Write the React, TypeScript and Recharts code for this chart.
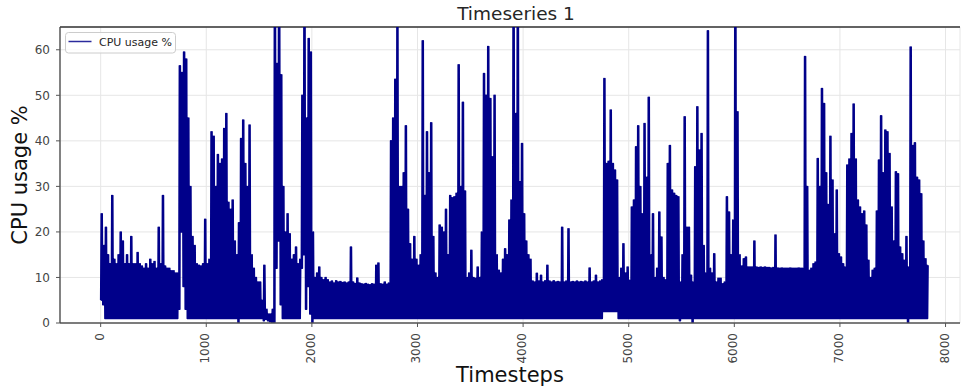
import React from 'react';
import { LineChart, Line, XAxis, YAxis, CartesianGrid, ReferenceLine, Legend } from 'recharts';

// Each bin spans 20 timesteps; HI = top of the trace in the bin, LO = bottom of the trace in the bin.
// The raw signal swings between these two levels many times within a bin.
const BIN_STEP = 20;

const HI: number[] = [
  24, 17, 21, 15, 13, 28, 14, 13, 15, 20, 18, 13, 15, 13, 19, 13, 13, 15.5, 13, 12.5,
  12, 13, 12, 14, 13, 13.5, 12, 21, 13, 28, 12.5, 12, 12, 11.5, 11.5, 11, 11, 56.5, 55, 59.5,
  58, 45, 30, 19, 17, 13, 12.7, 12.5, 13, 22.8, 13, 14, 42, 41, 30, 37, 35, 36, 42.7, 46,
  26.5, 25, 27, 18, 15, 22, 40.5, 44.6, 35, 30, 43.5, 15, 12, 10, 9, 9, 5, 12.7, 3, 2,
  2, 3, 75, 57, 80, 54.5, 30, 20, 24, 19.6, 14, 15, 16.7, 13, 14, 50, 75, 45, 62.5, 59.5,
  20, 10, 11, 12.3, 10, 9.5, 10, 9.5, 9, 9.2, 8.8, 9.3, 9, 9.1, 8.9, 9, 8.8, 9, 16.7, 9,
  8.7, 9.9, 8.8, 8.6, 8.5, 8.7, 8.5, 8.4, 8.6, 8.5, 12.7, 13.2, 8.6, 8.5, 9, 8.5, 8.8, 40, 45, 53.5,
  66, 30, 30, 33, 43.3, 25, 17.4, 14, 19, 14, 12.7, 15, 62, 28, 42, 33, 44, 19, 11, 10,
  21.5, 21, 20, 25, 15, 28, 27.5, 27.7, 28.5, 56.7, 30, 48.5, 29, 10, 11, 16, 10, 9.8, 12.3, 10,
  20, 54.8, 50, 60.7, 49.3, 36.5, 50, 15, 11.6, 11, 14, 16.3, 15, 22.6, 27, 75, 46, 75, 31, 39.4,
  24, 18, 15, 14, 9.2, 9, 10.9, 9.2, 10.5, 9, 9.3, 12.7, 9.2, 9, 9.3, 9, 9.1, 9, 21, 9,
  9.2, 20.7, 9, 9.1, 9, 9.2, 9, 9.1, 9, 9.2, 9, 12.1, 9, 9.2, 10.5, 9, 9.2, 9.5, 53.7, 35,
  35.5, 46.8, 35, 33.6, 31.4, 10, 12, 17.4, 11, 12.3, 9.4, 25.5, 27, 38.7, 43.3, 30, 24, 43.8, 32, 49.6,
  15, 24, 10, 12, 24.4, 18.9, 10, 9.5, 35, 39, 29.2, 28.5, 28, 27.7, 9, 15, 45.3, 21, 21, 10.5,
  9, 34.3, 47.5, 38, 41.6, 17, 11, 64.2, 12, 11, 15.2, 9, 9.8, 9.8, 8.6, 9, 27.7, 24.4, 15, 22.6,
  75, 46.4, 15, 12.5, 14.1, 14.5, 12.3, 12.3, 12.3, 18, 12.3, 12.2, 12.3, 12.2, 12.3, 12.2, 12.2, 12.1, 12.2, 19.3,
  12.1, 12, 12.1, 12, 12, 12, 12.1, 12, 12, 12, 12.1, 12, 12, 58.5, 30, 11.6, 12, 13, 13.4, 36.1,
  30, 51.5, 48.2, 33, 26, 41, 31.4, 19.6, 29.2, 15.2, 14.5, 13, 12.3, 34.7, 36, 41.6, 48.1, 36, 27, 25.5,
  24, 24.6, 21.5, 13.8, 10, 11.6, 12, 24.6, 35.8, 45.5, 33, 42.4, 42, 37.2, 25.5, 18, 33.2, 32.8, 16.7, 15.2,
  13.8, 19, 12.3, 60.6, 39, 39.6, 32, 31.4, 28.4, 18, 14.1, 12.7,
];

const LO: number[] = [
  5, 4, 1, 1, 1, 1, 1, 1, 1, 1, 1, 1, 1, 1, 1, 1, 1, 1, 1, 1,
  1, 1, 1, 1, 1, 1, 1, 1, 1, 1, 1, 1, 1, 1, 1, 1, 1, 3, 20, 8,
  3, 1, 1, 1, 1, 1, 1, 1, 1, 1, 1, 1, 1, 1, 1, 1, 1, 1, 1, 1,
  1, 1, 1, 1, 1, 0, 1, 1, 1, 1, 1, 1, 1, 1, 1, 1, 1, 0.5, 0.8, 0.5,
  0.3, 0, 0, 12, 18, 4, 1, 1, 1, 1, 1, 1, 1, 1, 1, 12, 15, 3, 8, 2,
  0, 1, 1, 1, 1, 1, 1, 1, 1, 1, 1, 1, 1, 1, 1, 1, 1, 1, 1, 1,
  1, 1, 1, 1, 1, 1, 1, 1, 1, 1, 1, 1, 1, 1, 1, 1, 1, 1, 1, 1,
  1, 1, 1, 1, 1, 1, 1, 1, 1, 1, 1, 1, 1, 1, 1, 1, 1, 1, 1, 1,
  1, 1, 1, 1, 1, 1, 1, 1, 1, 1, 1, 1, 1, 1, 1, 1, 1, 1, 1, 1,
  1, 1, 1, 1, 1, 1, 1, 1, 1, 1, 1, 1, 1, 1, 1, 1, 1, 1, 1, 1,
  1, 1, 1, 1, 1, 1, 1, 1, 1, 1, 1, 1, 1, 1, 1, 1, 1, 1, 1, 1,
  1, 1, 1, 1, 1, 1, 1, 1, 1, 1, 1, 1, 1, 1, 1, 1, 1, 1, 2.5, 2.5,
  2.5, 2.5, 2.5, 2.5, 2.5, 1, 1, 1, 1, 1, 1, 1, 1, 1, 1, 1, 1, 1, 1, 1,
  1, 1, 1, 1, 1, 1, 1, 1, 1, 1, 1, 1, 1, 1, 0.5, 1, 1, 1, 1, 1,
  0, 1, 1, 1, 1, 1, 1, 1, 1, 1, 1, 1, 1, 1, 1, 1, 1, 1, 1, 1,
  1, 1, 1, 1, 1, 1, 1, 1, 1, 1, 1, 1, 1, 1, 1, 1, 1, 1, 1, 1,
  1, 1, 1, 1, 1, 1, 1, 1, 1, 1, 1, 1, 1, 1, 1, 1, 1, 1, 1, 1,
  1, 1, 1, 1, 1, 1, 1, 1, 1, 1, 1, 1, 1, 1, 1, 1, 1, 1, 1, 1,
  1, 1, 1, 1, 1, 1, 1, 1, 1, 1, 1, 1, 1, 1, 1, 1, 1, 1, 1, 1,
  1, 1, 0, 1, 1, 1, 1, 1, 1, 1, 1, 1,
];

const X_TICKS = [0, 1000, 2000, 3000, 4000, 5000, 6000, 7000, 8000];
const Y_TICKS = [0, 10, 20, 30, 40, 50, 60];
const X_DOMAIN: [number, number] = [-385, 8137];
const Y_DOMAIN: [number, number] = [0, 65];
const TITLE = 'Timeseries 1';
const X_LABEL = 'Timesteps';
const Y_LABEL = 'CPU usage %';
const SERIES_NAME = 'CPU usage %';

// Two low/high swings per bin (every 5 timesteps) reproduce the dense oscillation of the raw trace.
const SWING = BIN_STEP / 4;
const data = HI.flatMap((h, i) => [
  { t: i * BIN_STEP, cpu: LO[i] },
  { t: i * BIN_STEP + SWING, cpu: h },
  { t: i * BIN_STEP + 2 * SWING, cpu: LO[i] },
  { t: i * BIN_STEP + 3 * SWING, cpu: h },
]);

const FONT = '"DejaVu Sans", Verdana, sans-serif';
const LINE_COLOR = '#00008a';

const XTick = (props: any) => {
  const { x, y, payload } = props;
  return (
    <text
      transform={`translate(${x + 3}, ${y}) rotate(-90)`}
      textAnchor="end"
      fontSize={12}
      fill="#444"
      fontFamily={FONT}
    >
      {payload.value}
    </text>
  );
};

const LegendBox = () => (
  <svg width={111} height={22} style={{ display: 'block' }}>
    <rect x={0.5} y={0.5} width={110} height={20.5} rx={3} ry={3} fill="rgba(255,255,255,0.8)" stroke="#cccccc" strokeWidth={1} />
    <line x1={3.5} y1={9.5} x2={26.5} y2={9.5} stroke="#2b2b9c" strokeWidth={1.5} />
    <text x={34} y={13.8} fontSize={11} fill="#262626" fontFamily={FONT}>{SERIES_NAME}</text>
  </svg>
);

export default function App() {
  return (
    <div style={{ position: 'absolute', left: 0, top: 0, width: 961, height: 391, background: '#fff' }}>
      <LineChart
        width={961}
        height={391}
        data={data}
        margin={{ top: 27, right: 1, bottom: 0, left: 0 }}
        style={{ fontFamily: FONT }}
      >
        <CartesianGrid stroke="#e6e6e6" strokeWidth={1} />
        <XAxis
          dataKey="t"
          type="number"
          domain={X_DOMAIN}
          ticks={X_TICKS}
          allowDataOverflow
          height={68}
          tickSize={4}
          tickMargin={6}
          tick={<XTick />}
          axisLine={{ stroke: '#555', strokeWidth: 1.3 }}
          tickLine={{ stroke: '#555' }}
          interval={0}
          label={{ value: X_LABEL, position: 'insideBottom', offset: 9, style: { fontSize: 21, fill: '#111', fontFamily: FONT } }}
        />
        <YAxis
          type="number"
          domain={Y_DOMAIN}
          ticks={Y_TICKS}
          allowDataOverflow
          width={60}
          tickSize={4}
          tickMargin={6}
          interval={0}
          tick={{ fontSize: 12, fill: '#444', fontFamily: FONT }}
          axisLine={{ stroke: '#444', strokeWidth: 1.3 }}
          tickLine={{ stroke: '#555' }}
          label={{ value: Y_LABEL, angle: -90, position: 'insideLeft', offset: 19.5, style: { fontSize: 21, fill: '#111', fontFamily: FONT, textAnchor: 'middle' } }}
        />
        <ReferenceLine y={65} stroke="#333" strokeWidth={1.3} />
        <Legend
          layout="vertical"
          align="center"
          verticalAlign="middle"
          wrapperStyle={{ left: 64.5, top: 31.5, width: 'auto', height: 'auto' }}
          content={() => <LegendBox />}
        />
        <Line
          type="linear"
          dataKey="cpu"
          name={SERIES_NAME}
          stroke={LINE_COLOR}
          strokeWidth={1.5}
          strokeLinejoin="round"
          dot={false}
          activeDot={false}
          isAnimationActive={false}
        />
      </LineChart>
      <svg width={961} height={27} style={{ position: 'absolute', left: 0, top: 0, pointerEvents: 'none' }}>
        <text x={516} y={20} textAnchor="middle" fontSize={18.5} fill="#262626" fontFamily={FONT}>{TITLE}</text>
      </svg>
    </div>
  );
}
